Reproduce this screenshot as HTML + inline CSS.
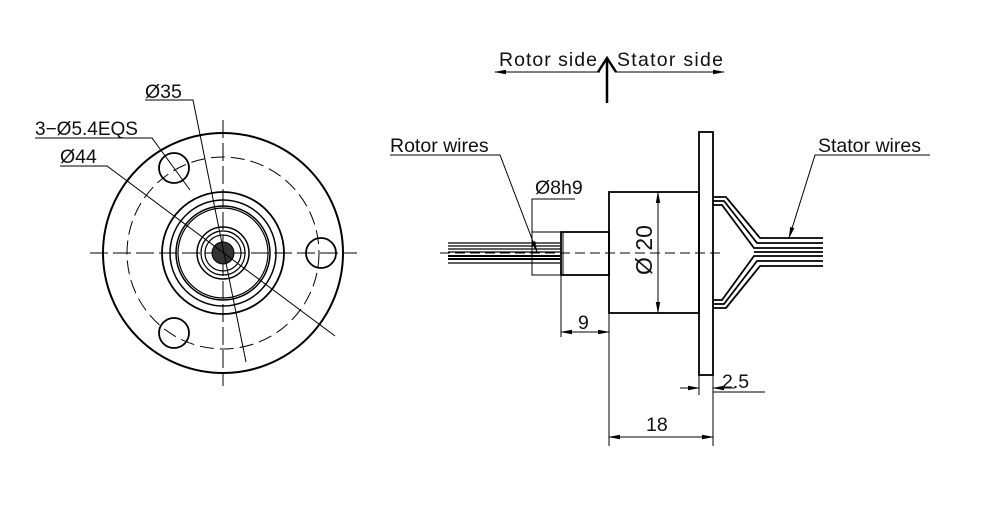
<!DOCTYPE html>
<html><head><style>
html,body{margin:0;padding:0;background:#fff;}
svg{display:block;font-family:"Liberation Sans",sans-serif;}
</style></head><body>
<svg width="996" height="519" viewBox="0 0 996 519" xmlns="http://www.w3.org/2000/svg">
<defs>
<marker id="a" markerWidth="12" markerHeight="6" refX="11" refY="3" orient="auto-start-reverse" markerUnits="userSpaceOnUse"><path d="M0,0.8 L12,3 L0,5.2 Z" fill="#000"/></marker>
</defs>
<g fill="none" stroke="#000">
<line x1="90" y1="253" x2="357" y2="253" stroke-width="1" stroke-dasharray="18,5"/>
<line x1="223" y1="120" x2="223" y2="386" stroke-width="1" stroke-dasharray="18,5"/>
<circle cx="223" cy="253" r="120" stroke-width="2"/>
<circle cx="223" cy="253" r="96" stroke-width="1" stroke-dasharray="14,6"/>
<circle cx="321" cy="253" r="15" stroke-width="1.8"/>
<circle cx="174" cy="168" r="15" stroke-width="1.8"/>
<circle cx="174" cy="333" r="15" stroke-width="1.8"/>
<circle cx="223" cy="253" r="61" stroke-width="1.8"/>
<circle cx="223" cy="253" r="53" stroke-width="1.5"/>
<circle cx="223" cy="253" r="47" stroke-width="1.5"/>
<circle cx="223" cy="253" r="45" stroke-width="1.2"/>
<circle cx="223" cy="253" r="26" stroke-width="1.5"/>
<circle cx="223" cy="253" r="22" stroke-width="1.2"/>
<circle cx="223" cy="253" r="18" stroke-width="1.2"/>
<circle cx="223" cy="253" r="11" fill="#333" stroke-width="1"/>
<polyline points="145,100 193,100 246,362" stroke-width="1"/>
<polyline points="35,138 152,138 190,190" stroke-width="1"/>
<polyline points="60,166 107,166 335,336" stroke-width="1"/>
<line x1="440" y1="253" x2="720" y2="253" stroke-width="1" stroke-dasharray="10,5"/>
<g stroke-width="1.2">
<line x1="448" y1="243" x2="560" y2="243"/>
<line x1="448" y1="246" x2="560" y2="246"/>
<line x1="448" y1="249" x2="560" y2="249"/>
<line x1="448" y1="252" x2="560" y2="252"/>
<line x1="448" y1="256" x2="560" y2="256" stroke-width="2"/>
<line x1="448" y1="259" x2="560" y2="259" stroke-width="2"/>
<line x1="448" y1="263" x2="560" y2="263"/>
</g>
<rect x="561" y="232" width="48" height="43" stroke-width="1.8"/>
<line x1="563" y1="232" x2="563" y2="275" stroke-width="1"/>
<rect x="609" y="192" width="90" height="121" stroke-width="1.8"/>
<rect x="699" y="132" width="14" height="243" stroke-width="1.8"/>
<g stroke-width="1.8">
<polyline points="713,197 726,197 760,238 823,238"/>
<polyline points="713,201 724,201 757,243 823,243"/>
<polyline points="713,205 722,205 754,248 823,248"/>
<polyline points="713,308 726,308 760,266 823,266"/>
<polyline points="713,304 724,304 757,261 823,261"/>
<polyline points="713,300 722,300 754,256 823,256"/>
<line x1="754" y1="252" x2="823" y2="252"/>
</g>
<g stroke-width="1">
<line x1="658" y1="192" x2="658" y2="313" marker-start="url(#a)" marker-end="url(#a)"/>
<polyline points="575,199 532,199 532,275 560,275"/>
<line x1="532" y1="232" x2="560" y2="232"/>
<line x1="561" y1="275" x2="561" y2="337"/>
<line x1="609" y1="313" x2="609" y2="446"/>
<line x1="561" y1="332" x2="609" y2="332" marker-start="url(#a)" marker-end="url(#a)"/>
<line x1="713" y1="375" x2="713" y2="446"/>
<line x1="699" y1="375" x2="699" y2="395"/>
<line x1="609" y1="437" x2="713" y2="437" marker-start="url(#a)" marker-end="url(#a)"/>
<line x1="680" y1="388" x2="699" y2="388" marker-end="url(#a)"/>
<line x1="735" y1="388" x2="713" y2="388" marker-end="url(#a)"/>
<line x1="713" y1="392" x2="765" y2="392"/>
<polyline points="390,155 500,155 537,252" marker-end="url(#a)"/>
<polyline points="930,155 815,155 789,238" marker-end="url(#a)"/>
<line x1="600" y1="72" x2="495" y2="72" marker-end="url(#a)"/>
<line x1="615" y1="72" x2="724" y2="72" marker-end="url(#a)"/>
</g>
<line x1="607" y1="103" x2="607" y2="58" stroke-width="2.5"/>
<polyline points="598,72 607,58 616,72" stroke-width="2.5"/>
</g>
<g font-size="19.5" fill="#111">
<text x="145" y="98">Ø35</text>
<text x="35" y="135" font-size="19">3−Ø5.4EQS</text>
<text x="60" y="163">Ø44</text>
<text x="390" y="152">Rotor wires</text>
<text x="535" y="194">Ø8h9</text>
<text x="818" y="152">Stator wires</text>
<text x="578" y="329">9</text>
<text x="646" y="431">18</text>
<text x="722" y="388">2.5</text>
<text x="499" y="66" textLength="98">Rotor side</text>
<text x="617" y="66" textLength="106">Stator side</text>
<text transform="translate(652,250) rotate(-90)" text-anchor="middle" font-size="23">Ø 20</text>
</g>
</svg>
</body></html>
